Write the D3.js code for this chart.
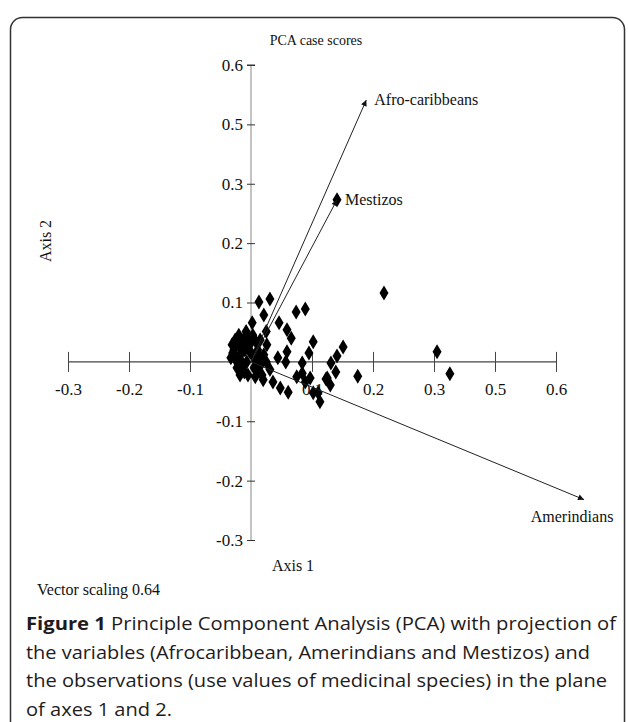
<!DOCTYPE html>
<html lang="en">
<head>
<meta charset="UTF-8">
<title>PCA case scores</title>
<script src="https://d3js.org/d3.v7.min.js"></script>
<style>
    body { margin: 0; background: #fff; }
    svg { display: block; }
    .serif { font-family: "Liberation Serif", "DejaVu Serif", serif; fill: #111; }
    .caption { font-family: "Open Sans", "Noto Sans", sans-serif; fill: #1f1b1c; font-size: 18.5px; }
</style>
</head>
<body>
<div id="chart"></div>
<script>
    // observation scores (axis 1, axis 2)
    const scoreX = [0.013, 0.031, 0.021, 0.002, 0.046, 0.074, 0.089, 0.059, 0.066, 0.102,
        0.059, 0.044, 0.095, 0.084, 0.151, 0.141, 0.131, 0.218, 0.305, 0.326,
        0.175, 0.139, 0.123, 0.130, 0.089, 0.075, 0.097, 0.084, 0.102, 0.113,
        0.110, 0.125, 0.031, 0.020, 0.036, 0.048, 0.061, 0.007, 0.057, 0.015,
        0.025, -0.028, -0.021, -0.018, -0.013, -0.010, -0.007, -0.002, 0.002, -0.025,
        -0.016, -0.011, -0.005, 0.007, 0.011, 0.016, 0.021, 0.026, -0.020, -0.008,
        0.003, 0.010, -0.030, -0.015, 0.141,
        -0.031, -0.026, -0.033, -0.023, -0.018, -0.003, 0.008, 0.015, 0.005, -0.008,
        0.018, 0.025, -0.013, -0.002];
    const scoreY = [0.101, 0.106, 0.079, 0.066, 0.066, 0.084, 0.089, 0.054, 0.040, 0.034,
        0.017, 0.007, 0.015, -0.002, 0.025, 0.010, -0.002, 0.116, 0.017, -0.020,
        -0.024, -0.017, -0.029, -0.039, -0.034, -0.025, -0.027, -0.019, -0.052, -0.067,
        -0.052, -0.027, -0.013, -0.030, -0.034, -0.044, -0.051, -0.025, 0.000, 0.037,
        0.051, 0.020, 0.029, 0.012, 0.037, 0.020, 0.000, 0.029, 0.012, 0.003,
        -0.008, -0.017, -0.022, 0.003, 0.020, -0.005, 0.012, 0.029, 0.045, 0.051,
        0.045, -0.013, 0.015, 0.000, 0.273,
        0.029, 0.037, 0.007, -0.010, -0.022, 0.040, 0.034, 0.008, -0.010, 0.037,
        -0.022, 0.000, 0.020, 0.017];

    // variable vectors
    const vectorNames = ["Afro-caribbeans", "Mestizos", "Amerindians"];
    const vectorX = [0.189, 0.141, 0.546];
    const vectorY = [0.441, 0.273, -0.232];

    // axis ticks (labels as printed on the original figure)
    const xTickValues = [-0.3, -0.2, -0.1, 0.1, 0.2, 0.3, 0.4, 0.5];
    const xTickLabels = ["-0.3", "-0.2", "-0.1", "0.1", "0.2", "0.3", "0.5", "0.6"];
    const yTickValues = [0.5, 0.4, 0.3, 0.2, 0.1, -0.1, -0.2, -0.3];
    const yTickLabels = ["0.6", "0.5", "0.3", "0.2", "0.1", "-0.1", "-0.2", "-0.3"];

    const captionLines = [
        "Principle Component Analysis (PCA) with projection of",
        "the variables (Afrocaribbean, Amerindians and Mestizos) and",
        "the observations (use values of medicinal species) in the plane",
        "of axes 1 and 2."
    ];

    const width = 628, height = 722;
    const svg = d3.select('#chart').append('svg')
        .attr('width', width)
        .attr('height', height);

    // frame
    svg.append('rect')
        .attr('x', 10.5).attr('y', 17.5)
        .attr('width', 614).attr('height', 740)
        .attr('rx', 12)
        .attr('fill', 'none')
        .attr('stroke', '#333')
        .attr('stroke-width', 1.5);

    const x = d3.scaleLinear().domain([-0.3, 0.5]).range([68, 556]);
    const y = d3.scaleLinear().domain([-0.3, 0.5]).range([540, 65]);

    svg.append('text').attr('class', 'serif')
        .attr('x', 316).attr('y', 45)
        .attr('text-anchor', 'middle')
        .attr('font-size', 14)
        .text('PCA case scores');

    // y axis
    const yAxis = d3.axisLeft(y)
        .tickValues(yTickValues)
        .tickFormat((d, i) => yTickLabels[i])
        .tickSizeInner(4).tickSizeOuter(0).tickPadding(4);
    const gy = svg.append('g').attr('transform', `translate(${x(0)},0)`).call(yAxis);
    gy.attr('font-family', null).attr('font-size', null);
    gy.select('.domain').attr('stroke', '#888').attr('d', `M0,${y(0.5)}V${y(-0.3)}`);
    gy.selectAll('.tick line').attr('x1', 4).attr('x2', -4).attr('stroke', '#333');
    gy.selectAll('.tick text').attr('class', 'serif').attr('font-size', 17).attr('fill', '#111');
    gy.append('line').attr('x1', -4).attr('x2', 4).attr('y1', y(0.5)).attr('y2', y(0.5)).attr('stroke', '#333');

    // x axis
    const xAxis = d3.axisBottom(x)
        .tickValues(xTickValues)
        .tickFormat((d, i) => xTickLabels[i])
        .tickSizeInner(10).tickSizeOuter(0).tickPadding(11);
    const gx = svg.append('g').attr('transform', `translate(0,${y(0)})`).call(xAxis);
    gx.attr('font-family', null).attr('font-size', null);
    gx.select('.domain').attr('stroke', '#444').attr('stroke-width', 1.3).attr('d', `M${x(-0.3)},0H${x(0.5)}`);
    gx.selectAll('.tick line').attr('y1', -10).attr('y2', 10).attr('stroke', '#444');
    gx.selectAll('.tick text').attr('class', 'serif').attr('font-size', 17).attr('fill', '#111');

    // observations
    const diamond = 'M0,-7.5L4.5,0L0,7.5L-4.5,0Z';
    svg.append('g').selectAll('path')
        .data(scoreX.map((v, i) => [v, scoreY[i]]))
        .enter().append('path')
        .attr('d', diamond)
        .attr('transform', d => `translate(${x(d[0])},${y(d[1])})`)
        .attr('fill', '#000');

    // vectors
    svg.append('defs').append('marker')
        .attr('id', 'arrow')
        .attr('viewBox', '0 0 10 10')
        .attr('refX', 10).attr('refY', 5)
        .attr('markerWidth', 9).attr('markerHeight', 6)
        .attr('markerUnits', 'userSpaceOnUse')
        .attr('orient', 'auto')
        .append('path').attr('d', 'M0,0L10,5L0,10Z').attr('fill', '#111');

    const vectors = vectorNames.map((n, i) => ({ name: n, vx: vectorX[i], vy: vectorY[i] }));
    svg.append('g').selectAll('line')
        .data(vectors)
        .enter().append('line')
        .attr('x1', x(0)).attr('y1', y(0))
        .attr('x2', d => x(d.vx)).attr('y2', d => y(d.vy))
        .attr('stroke', '#222')
        .attr('stroke-width', 1)
        .attr('marker-end', 'url(#arrow)');

    svg.append('g').selectAll('text')
        .data(vectors)
        .enter().append('text')
        .attr('class', 'serif')
        .attr('font-size', 16)
        .attr('x', d => d.vy < 0 ? x(d.vx) - 12 : x(d.vx) + 8)
        .attr('y', d => d.vy < 0 ? y(d.vy) + 22 : y(d.vy) + 5)
        .attr('text-anchor', d => d.vy < 0 ? 'middle' : 'start')
        .text(d => d.name);

    // axis titles
    svg.append('text').attr('class', 'serif')
        .attr('font-size', 16)
        .attr('x', 293).attr('y', 571)
        .attr('text-anchor', 'middle')
        .text('Axis 1');
    svg.append('text').attr('class', 'serif')
        .attr('font-size', 16)
        .attr('transform', 'translate(51,241) rotate(-90)')
        .attr('text-anchor', 'middle')
        .text('Axis 2');

    svg.append('text').attr('class', 'serif')
        .attr('font-size', 16)
        .attr('x', 37).attr('y', 595)
        .text('Vector scaling 0.64');

    // caption
    const lineWidths = [590, 564, 581, 146];
    const cap = svg.append('g');
    captionLines.forEach((t, i) => {
        const tx = cap.append('text').attr('class', 'caption')
            .attr('x', 26).attr('y', 630 + i * 28.5)
            .attr('textLength', lineWidths[i])
            .attr('lengthAdjust', 'spacingAndGlyphs');
        if (i === 0) {
            tx.append('tspan').attr('font-weight', 'bold').text('Figure 1 ');
        }
        tx.append('tspan').text(t);
    });
</script>
</body>
</html>
